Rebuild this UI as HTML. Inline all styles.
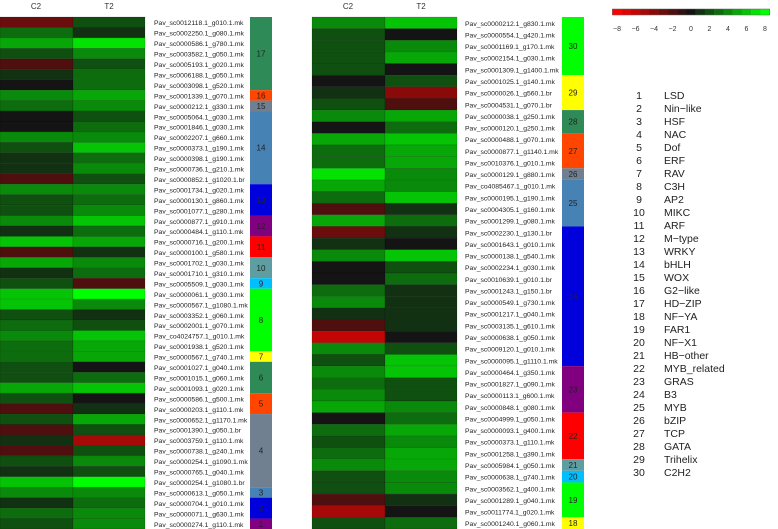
<!DOCTYPE html>
<html><head><meta charset="utf-8"><style>
html,body{margin:0;padding:0;background:#fff;}
svg{display:block;font-family:"Liberation Sans",sans-serif;}
</style></head><body>
<svg id="chart" width="778" height="529" viewBox="0 0 778 529" xmlns="http://www.w3.org/2000/svg"></svg>
<script>
const leftGenes=["Pav_sc0012118.1_g010.1.mk","Pav_sc0002250.1_g080.1.mk","Pav_sc0000586.1_g780.1.mk","Pav_sc0003582.1_g050.1.mk","Pav_sc0005193.1_g020.1.mk","Pav_sc0006188.1_g050.1.mk","Pav_sc0003098.1_g520.1.mk","Pav_sc0001339.1_g070.1.mk","Pav_sc0000212.1_g330.1.mk","Pav_sc0005064.1_g030.1.mk","Pav_sc0001846.1_g030.1.mk","Pav_sc0002207.1_g660.1.mk","Pav_sc0000373.1_g190.1.mk","Pav_sc0000398.1_g190.1.mk","Pav_sc0000736.1_g210.1.mk","Pav_sc0000852.1_g1020.1.br","Pav_sc0001734.1_g020.1.mk","Pav_sc0000130.1_g860.1.mk","Pav_sc0001077.1_g280.1.mk","Pav_sc0000877.1_g910.1.mk","Pav_sc0000484.1_g110.1.mk","Pav_sc0000716.1_g200.1.mk","Pav_sc0000100.1_g580.1.mk","Pav_sc0001702.1_g030.1.mk","Pav_sc0001710.1_g310.1.mk","Pav_sc0005509.1_g030.1.mk","Pav_sc0000061.1_g030.1.mk","Pav_sc0000567.1_g1080.1.mk","Pav_sc0003352.1_g060.1.mk","Pav_sc0002001.1_g070.1.mk","Pav_co4024757.1_g010.1.mk","Pav_sc0001938.1_g520.1.mk","Pav_sc0000567.1_g740.1.mk","Pav_sc0001027.1_g040.1.mk","Pav_sc0001015.1_g060.1.mk","Pav_sc0001093.1_g020.1.mk","Pav_sc0000586.1_g500.1.mk","Pav_sc0000203.1_g110.1.mk","Pav_sc0000652.1_g1170.1.mk","Pav_sc0001390.1_g050.1.br","Pav_sc0003759.1_g110.1.mk","Pav_sc0000738.1_g240.1.mk","Pav_sc0000254.1_g1090.1.mk","Pav_sc0000765.1_g040.1.mk","Pav_sc0000254.1_g1080.1.br","Pav_sc0000613.1_g050.1.mk","Pav_sc0000704.1_g010.1.mk","Pav_sc0000071.1_g630.1.mk","Pav_sc0000274.1_g110.1.mk"];
const leftC2=[-3,3,5,2,-2,1,0,4,3,0,0,4,2,1,1,-2,4,2,2,4,1,6,-2,5,1,2,6,6,2,3,4,3,3,2,2,5,2,-2,2,-2,1,-2,2,1,6,4,1,3,2];
const leftT2=[2,1,7,4,2,3,3,5,4,2,3,4,6,3,4,2,4,3,4,6,3,5,1,4,3,-2,8,4,1,2,6,5,5,0,3,6,0,1,5,2,-5,2,4,2,8,4,3,4,4];
const rightGenes=["Pav_sc0000212.1_g830.1.mk","Pav_sc0000554.1_g420.1.mk","Pav_sc0001169.1_g170.1.mk","Pav_sc0002154.1_g030.1.mk","Pav_sc0001309.1_g1400.1.mk","Pav_sc0001025.1_g140.1.mk","Pav_sc0000026.1_g560.1.br","Pav_sc0004531.1_g070.1.br","Pav_sc0000038.1_g250.1.mk","Pav_sc0000120.1_g250.1.mk","Pav_sc0000488.1_g070.1.mk","Pav_sc0000877.1_g1140.1.mk","Pav_sc0010376.1_g010.1.mk","Pav_sc0000129.1_g880.1.mk","Pav_co4085467.1_g010.1.mk","Pav_sc0000195.1_g190.1.mk","Pav_sc0004305.1_g160.1.mk","Pav_sc0001299.1_g080.1.mk","Pav_sc0002230.1_g130.1.br","Pav_sc0001643.1_g010.1.mk","Pav_sc0000138.1_g540.1.mk","Pav_sc0002234.1_g030.1.mk","Pav_sc0010639.1_g010.1.br","Pav_sc0001243.1_g150.1.br","Pav_sc0000549.1_g730.1.mk","Pav_sc0001217.1_g040.1.mk","Pav_sc0003135.1_g610.1.mk","Pav_sc0000638.1_g050.1.mk","Pav_sc0009120.1_g010.1.mk","Pav_sc0000095.1_g1110.1.mk","Pav_sc0000464.1_g350.1.mk","Pav_sc0001827.1_g090.1.mk","Pav_sc0000113.1_g600.1.mk","Pav_sc0000848.1_g080.1.mk","Pav_sc0004999.1_g050.1.mk","Pav_sc0000093.1_g400.1.mk","Pav_sc0000373.1_g110.1.mk","Pav_sc0001258.1_g390.1.mk","Pav_sc0005984.1_g050.1.mk","Pav_sc0000638.1_g740.1.mk","Pav_sc0003562.1_g400.1.mk","Pav_sc0001289.1_g040.1.mk","Pav_sc0011774.1_g020.1.mk","Pav_sc0001240.1_g060.1.mk"];
const rightC2=[4,2,2,2,2,0,1,2,4,0,5,3,3,7,5,3,-2,5,-3,1,4,0,0,3,4,1,-2,-6,4,2,4,3,4,5,0,3,2,3,4,2,2,-2,-5,2];
const rightT2=[6,0,4,5,0,2,-4,-2,5,3,6,5,5,4,4,6,1,3,1,0,6,2,3,1,1,1,1,0,2,6,6,2,2,4,3,5,4,5,5,4,4,1,0,3];
const leftFamilies=[17,16,15,14,13,12,11,10,9,8,7,6,5,4,3,2,1];
const leftFamilyCounts=[7,1,1,7,3,2,2,2,1,6,1,3,2,7,1,2,1];
const rightFamilies=[30,29,28,27,26,25,24,23,22,21,20,19,18];
const rightFamilyCounts=[5,3,2,3,1,4,12,4,4,1,1,3,1];
const familyNames=["LSD","Nin-like","HSF","NAC","Dof","ERF","RAV","C3H","AP2","MIKC","ARF","M-type","WRKY","bHLH","WOX","G2-like","HD-ZIP","NF-YA","FAR1","NF-X1","HB-other","MYB_related","GRAS","B3","MYB","bZIP","TCP","GATA","Trihelix","C2H2"];
const scaleTicks=[-8,-6,-4,-2,0,2,4,6,8];

const famColors={1:"#800080",2:"#0000dd",3:"#4682b4",4:"#708090",5:"#ff4500",6:"#2e8b57",7:"#ffff00",8:"#00ff00",9:"#00bfff",10:"#5f9ea0",11:"#ff0000",12:"#800080",13:"#0000dd",14:"#4682b4",15:"#708090",16:"#ff4500",17:"#2e8b57",18:"#ffff00",19:"#00ff00",20:"#00bfff",21:"#5f9ea0",22:"#ff0000",23:"#800080",24:"#0000dd",25:"#4682b4",26:"#708090",27:"#ff4500",28:"#2e8b57",29:"#ffff00",30:"#00ff00"};
const NS="http://www.w3.org/2000/svg";
const svg=document.getElementById('chart');
function el(tag,attrs,parent){const e=document.createElementNS(NS,tag);for(const k in attrs)e.setAttribute(k,attrs[k]);(parent||svg).appendChild(e);return e;}
function color(v){const t=Math.max(-1,Math.min(1,v/8));
 if(t>=0)return `rgb(${Math.round(20*(1-t))},${Math.round(20+235*t)},${Math.round(20*(1-t))})`;
 const a=-t;return `rgb(${Math.round(20+235*a)},${Math.round(20*(1-a))},${Math.round(20*(1-a))})`;}
const TOP=17,BOT=529;
function yScale(i,n){return TOP+i*(BOT-TOP)/n;}

function panel(genes,c2,t2,fams,counts,x0,labX,barX,side){
 const n=genes.length,h=(BOT-TOP)/n;
 const g=el('g',{});
 
 
 const hc=el('text',{x:x0+36,y:9,'font-size':8,'text-anchor':'middle',fill:'#333'},g);hc.textContent='C2';
 
 const ht=el('text',{x:x0+109,y:9,'font-size':8,'text-anchor':'middle',fill:'#333'},g);ht.textContent='T2';
 
 for(let i=0;i<n;i++){
  const y=yScale(i,n);
  const r1=el('rect',{x:x0,y:y,width:73,height:h,fill:color(c2[i]),stroke:'rgba(0,0,0,0.25)','stroke-width':0.5},g);
  
  const r2=el('rect',{x:x0+73,y:y,width:72,height:h,fill:color(t2[i]),stroke:'rgba(0,0,0,0.25)','stroke-width':0.5},g);
  
  const t=el('text',{x:labX,y:y+h/2+3,'font-size':6.8,fill:'#222'},g);t.textContent=genes[i];
  
 }
 let idx=0;
 for(let k=0;k<fams.length;k++){
  const y=yScale(idx,n),hh=counts[k]*h;
  const r=el('rect',{x:barX,y:y,width:22,height:hh,fill:famColors[fams[k]]},g);
  
  const t=el('text',{x:barX+11,y:y+hh/2+3,'font-size':8,'text-anchor':'middle',fill:'#222'},g);t.textContent=fams[k];
  
  idx+=counts[k];
 }
}
panel(leftGenes,leftC2,leftT2,leftFamilies,leftFamilyCounts,0,154,250,'left');
panel(rightGenes,rightC2,rightT2,rightFamilies,rightFamilyCounts,312,465,562,'right');

const sg=el('g',{});


const sx=v=>617+(v+8)*(765-617)/16;
for(let v=-8;v<=8;v++){
 const r=el('rect',{x:sx(v)-4.7,y:9,width:9.5,height:6,fill:color(v)},sg);
 
}
el('rect',{x:sx(-8)-4.7,y:9,width:sx(8)-sx(-8)+9.4,height:6,fill:'none',stroke:'#666','stroke-width':0.5},sg);
scaleTicks.forEach(v=>{const t=el('text',{x:sx(v),y:31,'font-size':7,'text-anchor':'middle',fill:'#333'},sg);t.textContent=v<0?'\u2212'+(-v):String(v);
 });

const lg=el('g',{});


familyNames.forEach((nm,i)=>{
 const y=99+i*13;
 const a=el('text',{x:639,y:y,'font-size':10.5,'text-anchor':'middle',fill:'#222'},lg);a.textContent=String(i+1);
 
 const b=el('text',{x:664,y:y,'font-size':10.5,fill:'#222'},lg);b.textContent=nm.replace(/-/g,'\u2212');
 
});
</script>
</body></html>
